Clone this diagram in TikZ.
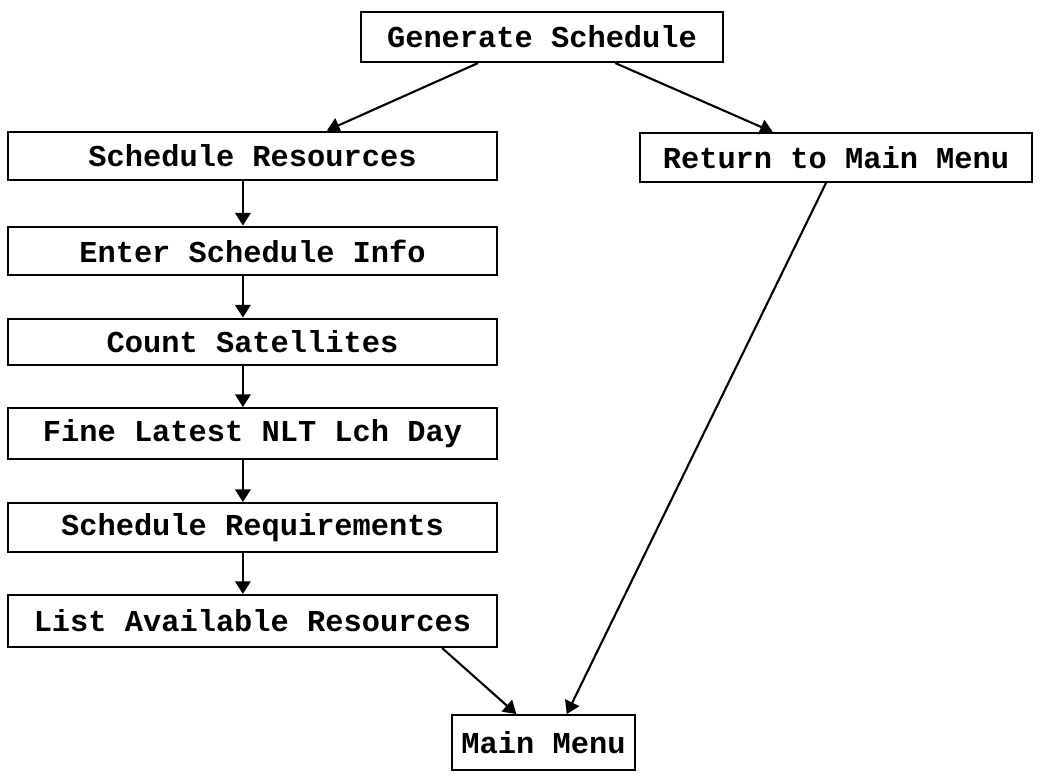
\documentclass[tikz,border=0pt]{standalone}
\usepackage{fontspec}
\setmonofont{Liberation Mono}
\usetikzlibrary{arrows.meta}
\newcommand{\boxfont}{\fontsize{21.6}{26}\selectfont\ttfamily\bfseries}
\tikzset{
    node style box/.style={draw,rectangle,line width=1.5pt,inner sep=0pt,font=\boxfont,minimum height=1.22cm},
    node style col/.style={node style box,minimum width=12.22cm},
    arrow style flow/.style={->,line width=1.5pt},
}

\begin{document}
\begin{tikzpicture}[x=0.025cm,y=-0.025cm,>={Triangle[length=9pt,width=11pt]}]

 \useasboundingbox (0,0) rectangle (1040,777);

\node [node style box,minimum width=9.05cm,minimum height=1.25cm] (gen) at (542,37) {Generate Schedule};

\node [node style col] (sched) at (252.5,156) {Schedule Resources};
\node [node style col] (enter) at (252.5,251) {Enter Schedule Info};
\node [node style col,minimum height=1.17cm] (count) at (252.5,342) {Count Satellites};
\node [node style col,minimum height=1.27cm] (fine) at (252.5,433.5) {Fine Latest NLT Lch Day};
\node [node style col] (req) at (252.5,527.5) {Schedule Requirements};
\node [node style col,minimum height=1.3cm] (list) at (252.5,621) {List Available Resources};

\node [node style box,minimum width=9.8cm] (ret) at (836,157.5) {Return to Main Menu};

\node [node style box,minimum width=4.58cm,minimum height=1.37cm] (main) at (543.5,742.5) {Main Menu};

 \draw [arrow style flow] ([xshift=-1.6cm]gen.south)--([xshift=1.86cm]sched.north);
 \draw [arrow style flow] ([xshift=1.83cm]gen.south)--([xshift=-1.58cm]ret.north);

 \draw [arrow style flow] ([xshift=-0.24cm]sched.south)--([xshift=-0.24cm]enter.north);
 \draw [arrow style flow] ([xshift=-0.24cm]enter.south)--([xshift=-0.24cm]count.north);
 \draw [arrow style flow] ([xshift=-0.24cm]count.south)--([xshift=-0.24cm]fine.north);
 \draw [arrow style flow] ([xshift=-0.24cm]fine.south)--([xshift=-0.24cm]req.north);
 \draw [arrow style flow] ([xshift=-0.24cm]req.south)--([xshift=-0.24cm]list.north);

 \draw [arrow style flow] ([xshift=4.74cm]list.south)--([xshift=-0.68cm]main.north);
 \draw [arrow style flow] ([xshift=-0.25cm]ret.south)--([xshift=0.58cm]main.north);

\end{tikzpicture}
\end{document}
